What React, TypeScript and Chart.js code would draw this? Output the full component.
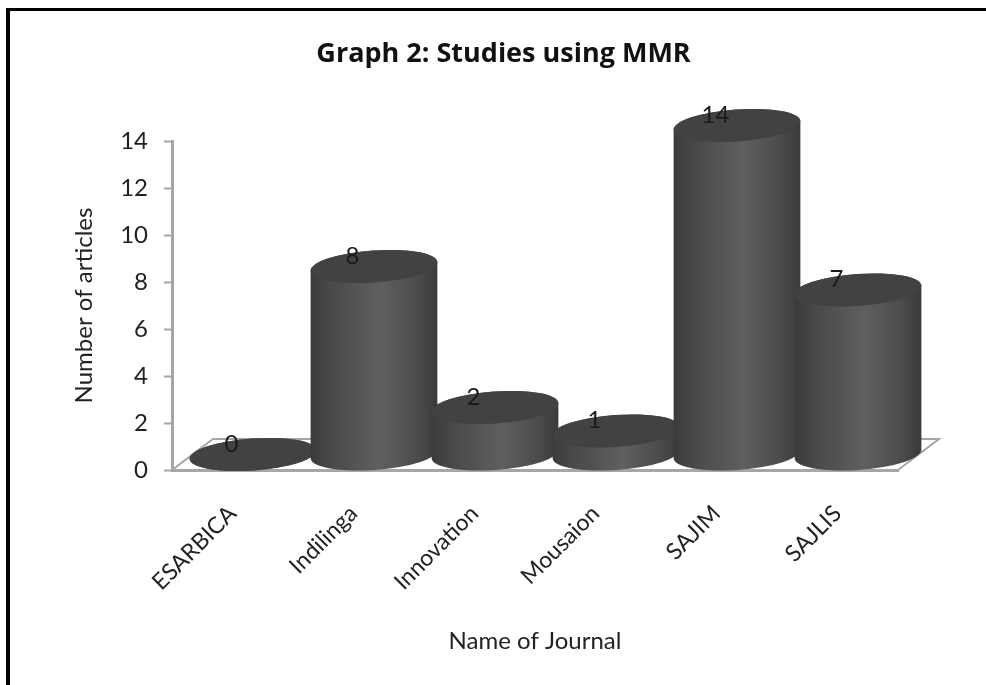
import React, { useEffect, useRef } from "react";
import { Chart, registerables } from "chart.js";

Chart.register(...registerables);

const journals = ["ESARBICA", "Indilinga", "Innovation", "Mousaion", "SAJIM", "SAJLIS"];
const articles = [0, 8, 2, 1, 14, 7];
const chartTitle = "Graph 2: Studies using MMR";
const xAxisTitle = "Name of Journal";
const yAxisTitle = "Number of articles";

const FONT = "Lato, Carlito, Calibri, sans-serif";
const AXIS_GREY = "#a6a6a6";
const DEPTH_X = 20.5;
const DEPTH_Y = 15.5;
const FLOOR_DX = 41;
const FLOOR_DY = 31;
const ELLIPSE_RY = 16;
const TILT = (-4 * Math.PI) / 180;

const cylinderPlugin = {
  id: "cylinders",
  beforeDatasetsDraw(chart: any) {
    const { ctx, chartArea: a } = chart;
    ctx.save();
    ctx.strokeStyle = AXIS_GREY;
    ctx.lineWidth = 2;
    ctx.beginPath();
    ctx.moveTo(a.left, a.bottom);
    ctx.lineTo(a.left + FLOOR_DX, a.bottom - FLOOR_DY);
    ctx.lineTo(a.right + FLOOR_DX, a.bottom - FLOOR_DY);
    ctx.lineTo(a.right, a.bottom);
    ctx.stroke();
    ctx.restore();
  },
  beforeDatasetDraw(chart: any, args: any) {
    const { ctx } = chart;
    const bars = args.meta.data;
    ctx.save();
    bars.forEach((bar: any) => {
      const cx = bar.x + DEPTH_X;
      const yTop = bar.y - DEPTH_Y;
      const yBase = bar.base - DEPTH_Y;
      const rx = bar.width / 2;
      const g = ctx.createLinearGradient(cx - rx, 0, cx + rx, 0);
      g.addColorStop(0, "#3a3a3a");
      g.addColorStop(0.15, "#484848");
      g.addColorStop(0.55, "#5f5f5f");
      g.addColorStop(0.85, "#4b4b4b");
      g.addColorStop(1, "#3a3a3a");
      ctx.beginPath();
      ctx.ellipse(cx, yBase, rx, ELLIPSE_RY, TILT, 0, Math.PI);
      ctx.ellipse(cx, yTop, rx, ELLIPSE_RY, TILT, Math.PI, Math.PI * 2);
      ctx.closePath();
      ctx.fillStyle = g;
      ctx.fill();
      ctx.beginPath();
      ctx.ellipse(cx, yTop, rx, ELLIPSE_RY, TILT, 0, Math.PI * 2);
      ctx.fillStyle = "#424242";
      ctx.fill();
    });
    ctx.restore();
    return false;
  },
  afterDatasetsDraw(chart: any) {
    const { ctx } = chart;
    const meta = chart.getDatasetMeta(0);
    ctx.save();
    ctx.font = `24px ${FONT}`;
    ctx.fillStyle = "#1a1a1a";
    ctx.textAlign = "center";
    ctx.textBaseline = "middle";
    meta.data.forEach((bar: any, i: number) => {
      ctx.fillText(String(articles[i]), bar.x - 1, bar.y - 26);
    });
    ctx.restore();
  },
};

export default function App() {
  const ref = useRef<HTMLCanvasElement>(null);
  useEffect(() => {
    const chart = new Chart(ref.current!, {
      type: "bar",
      data: {
        labels: journals,
        datasets: [
          {
            label: "Number of articles",
            data: articles,
            backgroundColor: "#4d4d4d",
            categoryPercentage: 1,
            barPercentage: 1.05,
            clip: false,
          },
        ],
      },
      plugins: [cylinderPlugin],
      options: {
        responsive: false,
        animation: false,
        layout: { padding: { left: 30, right: 9, top: 0, bottom: 0 } },
        plugins: {
          legend: { display: false },
          tooltip: { enabled: false },
          title: {
            display: true,
            text: chartTitle,
            color: "#111111",
            font: { family: "'Open Sans', " + FONT, size: 27, weight: "bold" },
            padding: { top: 38, bottom: 70.6 },
          },
        },
        scales: {
          x: {
            afterFit: (s: any) => {
              s.height = 215;
            },
            grid: { display: false, drawTicks: false },
            border: { color: AXIS_GREY, width: 3 },
            ticks: {
              autoSkip: false,
              minRotation: 45,
              maxRotation: 45,
              padding: 30,
              color: "#222222",
              font: { family: FONT, size: 23 },
            },
            title: {
              display: true,
              text: xAxisTitle,
              color: "#222222",
              font: { family: FONT, size: 24 },
              padding: { top: 0, bottom: 29.6 },
            },
          },
          y: {
            min: 0,
            max: 14,
            afterFit: (s: any) => {
              s.width = 142;
            },
            grid: { drawOnChartArea: false, color: AXIS_GREY, tickLength: 8, tickWidth: 2 },
            border: { color: AXIS_GREY, width: 3 },
            ticks: {
              stepSize: 2,
              padding: 16,
              color: "#222222",
              font: { family: FONT, size: 24 },
            },
            title: {
              display: true,
              text: yAxisTitle,
              color: "#222222",
              font: { family: FONT, size: 24 },
              padding: { top: 39.6, bottom: 0 },
            },
          },
          spacer: {
            type: "linear",
            position: "right",
            afterFit: (s: any) => {
              s.width = 79;
            },
            grid: { display: false },
            border: { display: false },
            ticks: { display: false },
          },
        },
      } as any,
    });
    return () => chart.destroy();
  }, []);
  return (
    <div style={{ position: "fixed", left: 0, top: 0, width: 986, height: 685, background: "#fff", overflow: "hidden" }}>
      <div
        style={{
          position: "absolute",
          left: 6,
          top: 8,
          width: 980,
          height: 677,
          borderLeft: "4px solid #000",
          borderTop: "3px solid #000",
          boxSizing: "border-box",
        }}
      />
      <canvas ref={ref} width={986} height={685} style={{ position: "absolute", left: 0, top: 0, display: "block" }} />
    </div>
  );
}
